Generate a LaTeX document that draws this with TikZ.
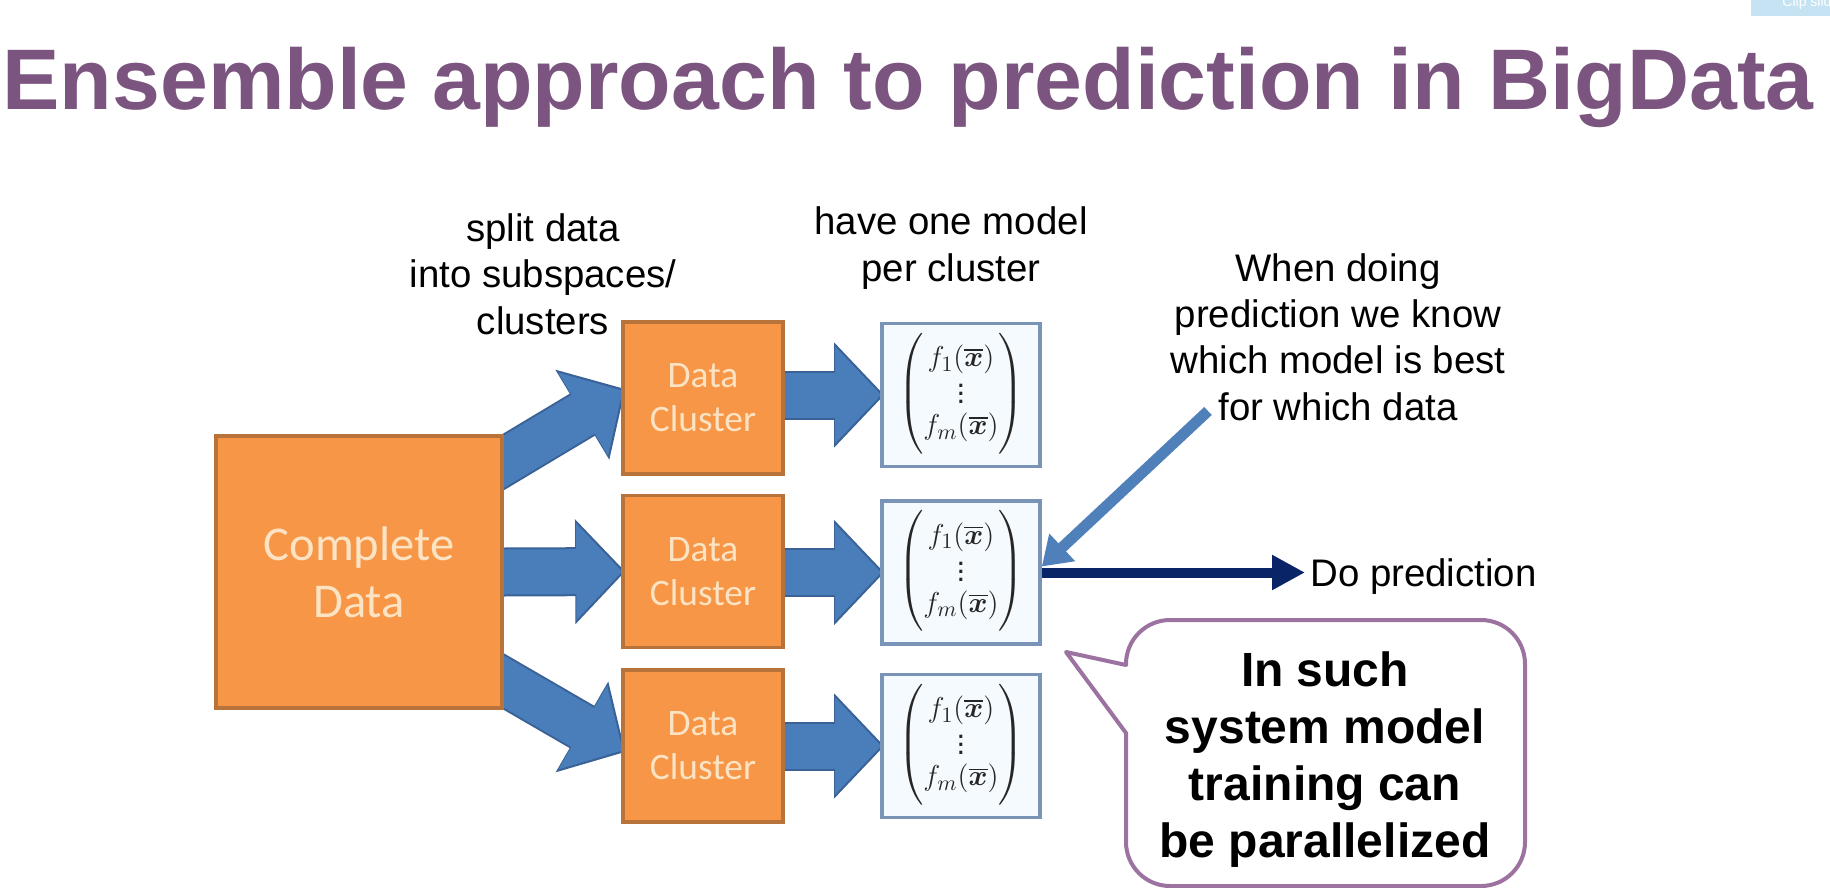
\documentclass[tikz,border=0pt]{standalone}
\usepackage{amsmath}
\usepackage{fontspec}
\setmainfont{Liberation Sans}
\newfontfamily\officefont{Carlito}
\usetikzlibrary{positioning,arrows.meta,backgrounds}

\definecolor{titlepurple}{HTML}{7B5580}
\definecolor{boxorange}{HTML}{F79646}
\definecolor{boxedge}{HTML}{B8733A}
\definecolor{boxtext}{HTML}{FCE3C4}
\definecolor{arrowblue}{HTML}{4A7EBB}
\definecolor{arrowedge}{HTML}{3A6296}
\definecolor{modelfill}{HTML}{F5FAFE}
\definecolor{modeledge}{HTML}{7A94B8}
\definecolor{pointerblue}{HTML}{5080BA}
\definecolor{darkblue}{HTML}{0A2468}
\definecolor{calloutedge}{HTML}{9B72A0}
\definecolor{clipblue}{HTML}{C5E3F2}

\newcommand{\modelvec}{$\left(\rule[-28pt]{0pt}{56pt}\begin{matrix} f_1(\overline{\boldsymbol{x}}) \\[-2.5pt] \vdots \\[-2.5pt] f_m(\overline{\boldsymbol{x}}) \end{matrix}\right)$}

\begin{document}
\begin{tikzpicture}[
    x=0.5pt, y=-0.5pt,
    every node/.style={inner sep=0pt},
    bigbox/.style={rectangle, draw=boxedge, line width=1.8pt, fill=boxorange, text=boxtext, minimum width=143pt, minimum height=136pt, align=center, font=\officefont\fontsize{24.3}{28.5}\selectfont},
    clusterbox/.style={rectangle, draw=boxedge, line width=1.8pt, fill=boxorange, text=boxtext, minimum width=80pt, minimum height=76pt, align=center, font=\officefont\fontsize{18.7}{22}\selectfont},
    modelbox/.style={rectangle, draw=modeledge, line width=1.8pt, fill=modelfill, text=black!85, minimum width=79pt, minimum height=71.5pt, font=\fontsize{15.5}{18}\selectfont},
    label/.style={align=center, font=\fontsize{19.2}{23.2}\selectfont},
    blockarrow/.style={line width=22.5pt, draw=arrowblue, shorten >=1.5pt, -{Triangle[length=23pt,width=47pt]},
        preaction={draw=arrowedge, line width=24.5pt, shorten >=0pt, -{Triangle[length=25pt,width=51pt]}}},
    pointer/.style={line width=5.5pt, draw=pointerblue, -{Triangle[length=14pt,width=18pt]}},
    predarrow/.style={line width=5pt, draw=darkblue, shorten >=2.5pt, -{Triangle[length=16.5pt,width=16.5pt]}},
    calloutline/.style={draw=calloutedge, line width=2pt, fill=white, line join=round}
]
\useasboundingbox (0,0) rectangle (1830,888);

% Title
\node[font=\bfseries\fontsize{43}{52}\selectfont, text=titlepurple, anchor=base] (title) at (908,110) {Ensemble approach to prediction in BigData};

% Clip button, top right
\fill[clipblue] (1751,0) rectangle (1830,16);
\node[font=\fontsize{7}{8}\selectfont, text=white, anchor=west] (clip) at (1782,3) {Clip slide};

% Complete data
\node[bigbox] (complete) at (359,572) {Complete\\Data};

% Data clusters
\node[clusterbox] (cl1) at (703,398) {Data\\Cluster};
\node[clusterbox] (cl2) at (703,571.5) {Data\\Cluster};
\node[clusterbox] (cl3) at (703,746) {Data\\Cluster};

% Models
\node[modelbox] (model1) at (961,395) {\modelvec};
\node[modelbox] (model2) at (961,572.5) {\modelvec};
\node[modelbox] (model3) at (961,746) {\modelvec};

% Labels
\node[label] (splitlabel) at (543,274) {split data\\into subspaces/\\clusters};
\node[label] (modellabel) at (951,248) {have one model\\per cluster};
\node[label] (whenlabel) at (1338,337) {When doing\\prediction we know\\which model is best\\for which data};
\node[label, anchor=west] (pred) at (1310,577) {Do prediction};

% Block arrows
\begin{scope}[on background layer]
\coordinate (tail1) at (470,482);
\coordinate (tail3) at (470,662);
\draw[blockarrow] (tail1) -- ([xshift=2pt,yshift=4.5pt]cl1.west);
\draw[blockarrow] (complete.east) -- ([xshift=2pt]cl2.west);
\draw[blockarrow] (tail3) -- ([xshift=2pt,yshift=-3pt]cl3.west);
\draw[blockarrow] (cl1.east |- model1.west) -- ([xshift=2pt]model1.west);
\draw[blockarrow] (cl2.east |- model2.west) -- ([xshift=2pt]model2.west);
\draw[blockarrow] (cl3.east |- model3.west) -- ([xshift=2pt]model3.west);
\end{scope}

% Prediction arrows
\coordinate (pointertail) at (1208,411);
\draw[predarrow] (model2.east) -- (pred.west |- model2.east);
\draw[pointer] (pointertail) -- ([yshift=3pt]model2.east);

% Callout
\draw[calloutline, rounded corners=22pt] (1126,733) -- (1126,886) -- (1525,886) -- (1525,620) -- (1126,620) [sharp corners] -- (1126,665) -- (1066,652) -- cycle;
\node[align=center, font=\bfseries\fontsize{24}{28.5}\selectfont] (callout) at (1325,760) {In such\\system model\\training can\\be parallelized};

\end{tikzpicture}
\end{document}
